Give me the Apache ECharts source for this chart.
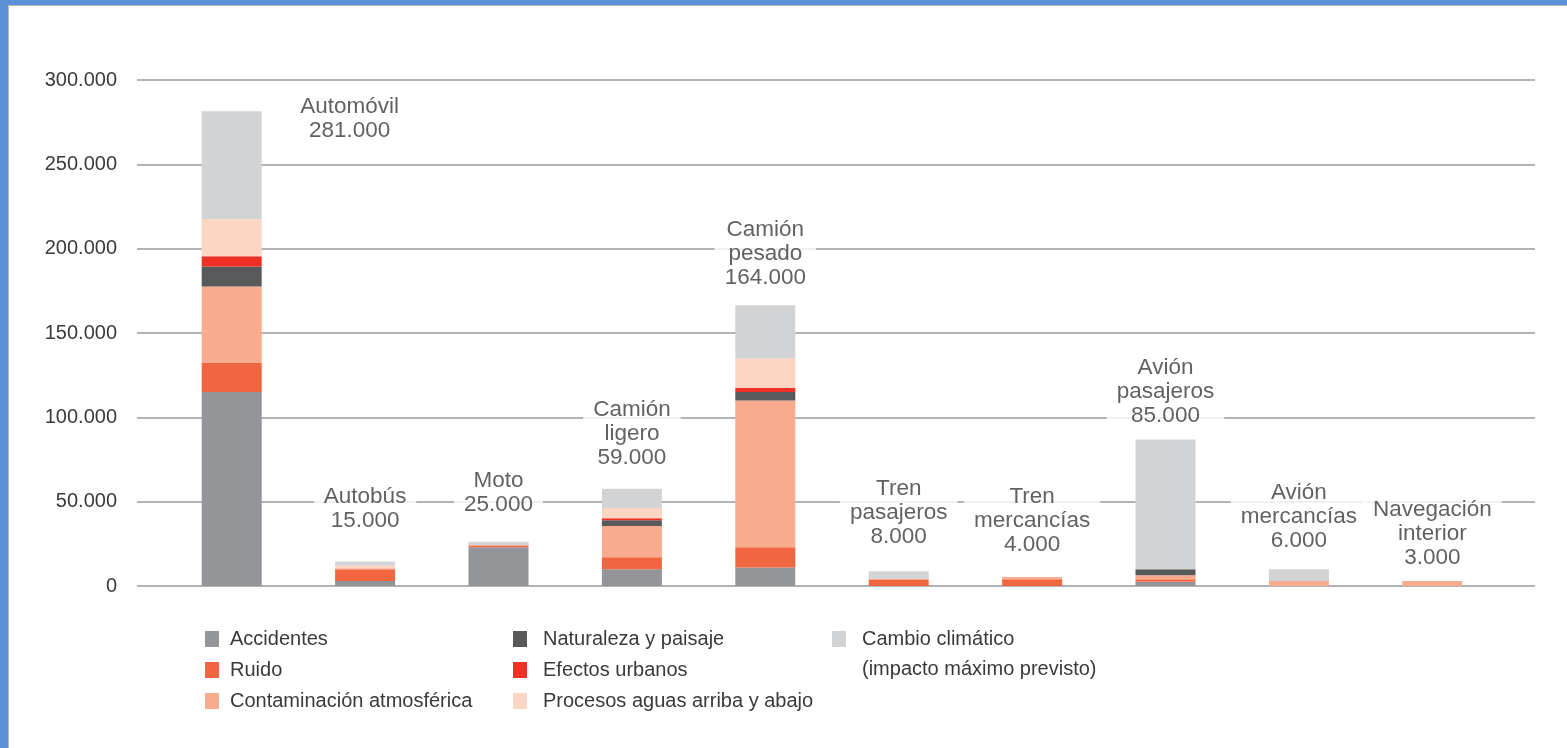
<!DOCTYPE html>
<html>
<head>
<meta charset="utf-8">
<script src="https://cdn.jsdelivr.net/npm/echarts@6/dist/echarts.min.js"></script>
<style>
html,body{margin:0;padding:0;background:#fff;}
#chart{position:absolute;left:0;top:0;width:1567px;height:748px;}
.bt{position:absolute;left:0;top:0;width:1567px;height:5px;background:#5b8fd6;}
.bt2{position:absolute;left:8px;top:5px;width:1559px;height:1px;background:#b8b8b8;}
.bl{position:absolute;left:0;top:0;width:8px;height:748px;background:#5b8fd6;}
.bl2{position:absolute;left:8px;top:5px;width:1px;height:743px;background:#b8b8b8;}
</style>
</head>
<body>
<div id="chart"></div>
<div class="bt"></div><div class="bt2"></div><div class="bl"></div><div class="bl2"></div>
<script>
// ---- data ----
const categories = ['Automóvil','Autobús','Moto','Camión ligero','Camión pesado','Tren pasajeros','Tren mercancías','Avión pasajeros','Avión mercancías','Navegación interior'];
const categoryLines = ['Automóvil','Autobús','Moto','Camión\nligero','Camión\npesado','Tren\npasajeros','Tren\nmercancías','Avión\npasajeros','Avión\nmercancías','Navegación\ninterior'];
const totals = [281000, 15000, 25000, 59000, 164000, 8000, 4000, 85000, 6000, 3000];
const accidentes     = [115000, 3000, 23000, 10000, 11000,    0,    0, 2500,    0,    0];
const ruido          = [ 17500, 7000,  1000,  7000, 12000, 3500, 4000, 1500,    0,    0];
const contaminacion  = [ 45000,  500,   300, 18500, 87000,  800, 1400, 2300, 3000, 3000];
const naturaleza     = [ 12000,    0,     0,  3500,  5000,    0,    0, 3600,    0,    0];
const efectos        = [  6000,    0,     0,  1200,  2500,    0,    0,    0,    0,    0];
const procesos       = [ 22000, 1500,     0,  6000, 17500,    0,    0,    0,    0,    0];
const cambio         = [ 64000, 2500,  2000, 11500, 31500, 4500,    0,77000, 7000,    0];
const yTicks = [0, 50000, 100000, 150000, 200000, 250000, 300000];
const seriesNames = ['Accidentes','Ruido','Contaminación atmosférica','Naturaleza y paisaje','Efectos urbanos','Procesos aguas arriba y abajo','Cambio climático'];
const legendNote = '(impacto máximo previsto)';

// ---- layout (not data) ----
const labelAnchorY = [277000, 46000, 55000, 90000, 197000, 43300, 38500, 115000, 40900, 30800];
const labelOffsetX = [118, 0, 0, 0, 0, 0, 0, 0, 0, 0];
const colors = ['#939598','#f26541','#f9ab8e','#58595b','#ee3124','#fcd5c3','#d1d3d4'];
const seriesData = [accidentes, ruido, contaminacion, naturaleza, efectos, procesos, cambio];

function fmt(v){ return String(v).replace(/\B(?=(\d{3})+(?!\d))/g, '.'); }

const FONT = '"Liberation Sans", Arial, sans-serif';
const TXT = '#3a3a3a';

const chart = echarts.init(document.getElementById('chart'));

const bars = seriesNames.map((n, k) => ({
  name: n, type: 'bar', stack: 'total', xAxisIndex: 1, yAxisIndex: 1,
  barWidth: 60, itemStyle: { color: colors[k] }, data: seriesData[k],
  emphasis: { disabled: true }, animation: false
}));

const labelSeries = {
  type: 'scatter', xAxisIndex: 1, yAxisIndex: 1, symbolSize: 0, silent: true, z: 10,
  animation: false,
  data: categories.map((c, i) => ({
    value: [i, labelAnchorY[i]],
    label: {
      show: true, position: 'inside', offset: [labelOffsetX[i], 0],
      formatter: categoryLines[i] + '\n' + fmt(totals[i]),
      fontFamily: FONT, fontSize: 22.5, lineHeight: 24, color: TXT,
      backgroundColor: '#fff', padding: [2, 10, 0, 10], align: 'center'
    }
  }))
};

function legendAt(left, names, padLeft) {
  return {
    orient: 'vertical', left: left, top: 624, itemGap: 11, itemWidth: 14, itemHeight: 16,
    icon: 'rect', selectedMode: false, data: names,
    textStyle: { fontFamily: FONT, fontSize: 20, color: TXT, padding: [0, 0, 0, padLeft] }
  };
}

chart.setOption({
  backgroundColor: '#fff',
  animation: false,
  textStyle: { fontFamily: FONT },
  grid: [
    { left: 137, right: 32, top: 80, bottom: 162 },
    { left: 165, right: 68, top: 80, bottom: 162 }
  ],
  xAxis: [
    { gridIndex: 0, type: 'value', show: false, min: 0, max: 1 },
    { gridIndex: 1, type: 'category', data: categories, axisLine: { show: false }, axisTick: { show: false }, axisLabel: { show: false } }
  ],
  yAxis: [
    { gridIndex: 0, type: 'value', min: yTicks[0], max: yTicks[yTicks.length - 1], interval: yTicks[1] - yTicks[0],
      axisLine: { show: false }, axisTick: { show: false },
      axisLabel: { margin: 20, fontSize: 20, color: TXT, fontFamily: FONT, formatter: v => fmt(v) },
      splitLine: { lineStyle: { color: '#9a9a9c', width: 1.5 } } },
    { gridIndex: 1, type: 'value', min: yTicks[0], max: yTicks[yTicks.length - 1], show: false, splitLine: { show: false } }
  ],
  legend: [
    legendAt(200, seriesNames.slice(0, 3), 6),
    legendAt(508, seriesNames.slice(3, 6), 11),
    legendAt(827, seriesNames.slice(6, 7), 11)
  ],
  graphic: [{
    type: 'text', left: 862, top: 659,
    style: { text: legendNote, fontFamily: FONT, fontSize: 20, fill: TXT }
  }],
  series: bars.concat([labelSeries])
});
</script>
</body>
</html>
